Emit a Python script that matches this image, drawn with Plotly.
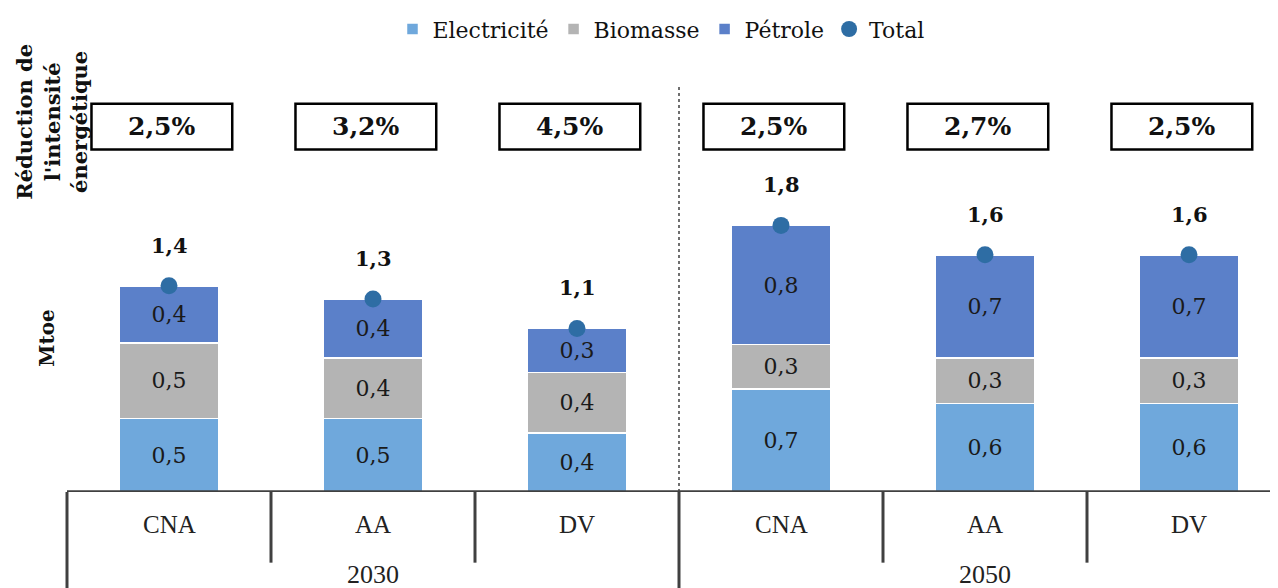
import plotly.graph_objects as go

# ---- data ----
categories = ["CNA", "AA", "DV", "CNA", "AA", "DV"]
years = ["2030", "2050"]
electricite = [0.50, 0.50, 0.40, 0.70, 0.60, 0.60]
biomasse = [0.51, 0.41, 0.41, 0.30, 0.31, 0.31]
petrole = [0.39, 0.40, 0.30, 0.81, 0.70, 0.70]
reduction = ["2,5%", "3,2%", "4,5%", "2,5%", "2,7%", "2,5%"]

total = [round(e + b + p, 2) for e, b, p in zip(electricite, biomasse, petrole)]
xs = list(range(len(categories)))


def fr(v):
    return f"{v:.1f}".replace(".", ",")


C_ELEC = "#6FA8DC"
C_BIO = "#B4B4B4"
C_PET = "#5B80C9"
C_TOT = "#2E6DA4"
SERIF = "DejaVu Serif"
AXIS_C = "#404040"

# page has an 8px body margin: work in reference-window pixels, convert
OFF = 8
W, H = 1278 - OFF, 588 - OFF
AXIS_ROW = 492          # reference pixel row of the category axis line
LEFT_COL = 67           # reference pixel column of the left frame line
ML = LEFT_COL - OFF
MR = 0
MB = 588 - AXIS_ROW
MT = 60
PW, PH = W - ML - MR, H - MT - MB
CAT_PX = 204.0
PX_PER_UNIT = 148.0
xmax = -0.5 + PW / CAT_PX
ymax = PH / PX_PER_UNIT


def py(pix):  # reference pixel row -> paper y
    return (AXIS_ROW - pix) / PH


def px(pix):  # reference pixel col -> paper x
    return (pix - LEFT_COL) / PW


def dy(pix):  # reference pixel row -> data y
    return (AXIS_ROW - pix) / PX_PER_UNIT


fig = go.Figure()
for name, vals, col in [("Electricité", electricite, C_ELEC),
                        ("Biomasse", biomasse, C_BIO),
                        ("Pétrole", petrole, C_PET)]:
    fig.add_trace(go.Bar(
        x=xs, y=vals, name=name, width=0.49,
        marker=dict(color=col, line=dict(color="white", width=1.5)),
        text=[fr(v) for v in vals], textposition="inside",
        insidetextanchor="middle", constraintext="none", textangle=0,
        textfont=dict(family=SERIF, size=22, color="#1a1a1a"),
        hoverinfo="skip",
    ))

fig.add_trace(go.Scatter(
    x=xs, y=total, name="Total", mode="markers",
    marker=dict(color=C_TOT, size=17), hoverinfo="skip",
))

annotations = []
for i, t in enumerate(total):
    annotations.append(dict(
        x=i, y=t, xref="x", yref="y", text=f"<b>{fr(t)}</b>", showarrow=False,
        yanchor="bottom", yshift=26,
        font=dict(family=SERIF, size=21, color="#111111")))

shapes = []
# percentage boxes
for i, r in enumerate(reduction):
    x0 = i - 0.345 - 0.035
    x1 = i + 0.345 - 0.035
    shapes.append(dict(type="rect", xref="x", yref="y", x0=x0, x1=x1,
                       y0=dy(148), y1=dy(102),
                       line=dict(color="black", width=2.5), fillcolor="white",
                       layer="above"))
    annotations.append(dict(
        x=(x0 + x1) / 2, y=(dy(148) + dy(102)) / 2, xref="x", yref="y",
        text=f"<b>{r}</b>", showarrow=False, yanchor="middle",
        font=dict(family=SERIF, size=25, color="#111111")))

# dashed separator between years
shapes.append(dict(type="line", xref="x", yref="y", x0=2.5, x1=2.5,
                   y0=0, y1=dy(85),
                   line=dict(color="#222222", width=1.3, dash="dot")))

# category axis structure
shapes.append(dict(type="line", xref="paper", yref="y", x0=0, x1=1, y0=0, y1=0,
                   line=dict(color=AXIS_C, width=3.5), layer="above"))
shapes.append(dict(type="line", xref="paper", yref="paper", x0=0, x1=0,
                   y0=0, y1=py(600), line=dict(color=AXIS_C, width=3)))
shapes.append(dict(type="line", xref="x", yref="paper", x0=2.5, x1=2.5,
                   y0=0, y1=py(600), line=dict(color=AXIS_C, width=3)))
for xv in [0.5, 1.5, 3.5, 4.5]:
    shapes.append(dict(type="line", xref="x", yref="paper", x0=xv, x1=xv,
                       y0=0, y1=py(563), line=dict(color=AXIS_C, width=3)))

for i, c in enumerate(categories):
    annotations.append(dict(x=i, y=py(525), xref="x", yref="paper", text=c,
                            showarrow=False, yanchor="middle",
                            font=dict(family="Liberation Serif", size=25,
                                      color="#222222")))
for j, yr in enumerate(years):
    annotations.append(dict(x=1 + 3 * j, y=py(575), xref="x", yref="paper",
                            text=yr, showarrow=False, yanchor="middle",
                            font=dict(family="Liberation Serif", size=26,
                                      color="#222222")))

annotations.append(dict(x=px(47), y=py(338), xref="paper", yref="paper",
                        xanchor="center", yanchor="middle",
                        text="<b>Mtoe</b>", textangle=-90, showarrow=False,
                        font=dict(family=SERIF, size=20, color="#111111")))
annotations.append(dict(x=px(52), y=py(120), xref="paper", yref="paper",
                        xanchor="center", yanchor="middle",
                        text="<b>Réduction de<br>l'intensité<br>énergétique</b>",
                        textangle=-90, showarrow=False,
                        font=dict(family=SERIF, size=21, color="#111111")))

fig.update_layout(
    width=W, height=H, barmode="stack",
    margin=dict(l=ML, r=MR, t=MT, b=MB, pad=0),
    paper_bgcolor="white", plot_bgcolor="white",
    xaxis=dict(range=[-0.5, xmax], visible=False, fixedrange=True),
    yaxis=dict(range=[0, ymax], visible=False, fixedrange=True),
    showlegend=True,
    legend=dict(orientation="h", x=px(661), xanchor="center",
                y=py(27), yanchor="middle", traceorder="normal",
                font=dict(family=SERIF, size=22, color="#111111"),
                bgcolor="rgba(0,0,0,0)"),
    shapes=shapes, annotations=annotations,
)

fig.write_html("out.html")
